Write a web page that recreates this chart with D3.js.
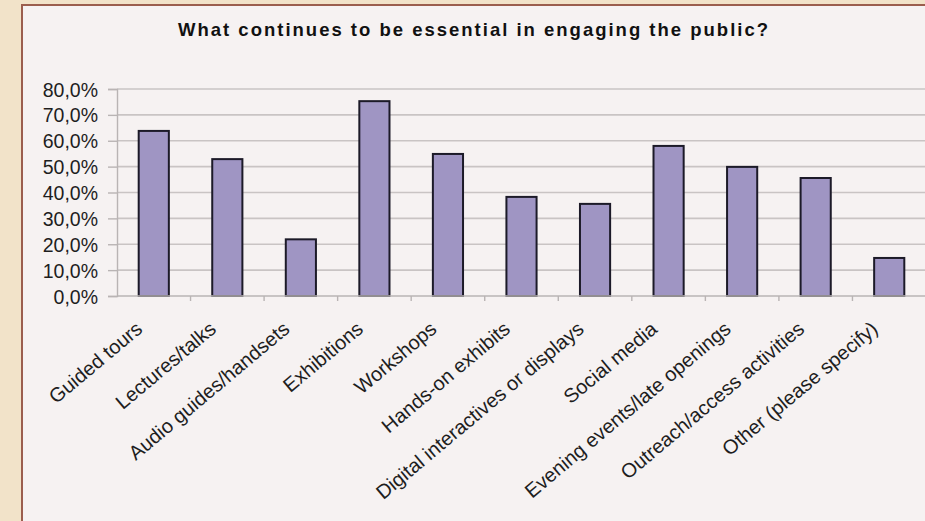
<!DOCTYPE html>
<html><head><meta charset="utf-8">
<script src="https://cdn.jsdelivr.net/npm/d3@7"></script>
<style>html,body{margin:0;padding:0;background:#f2e3c9;}svg{display:block;}</style>
</head><body>
<svg id="chart" width="925" height="521"></svg>
<script>
const title = "What continues to be essential in engaging the public?";
const categories = ["Guided tours","Lectures/talks","Audio guides/handsets","Exhibitions","Workshops","Hands-on exhibits","Digital interactives or displays","Social media","Evening events/late openings","Outreach/access activities","Other (please specify)"];
const values = [63.8, 52.9, 21.9, 75.3, 54.9, 38.3, 35.6, 58.0, 49.9, 45.6, 14.7];
const yTicks = [0,10,20,30,40,50,60,70,80];

const svg = d3.select("#chart");
svg.append("rect").attr("x",0).attr("y",0).attr("width",925).attr("height",521).attr("fill","#f2e3c9");
svg.append("rect").attr("x",22).attr("y",5).attr("width",920).attr("height",530)
  .attr("fill","#f6f2f2").attr("stroke","#9b5e4e").attr("stroke-width",2);

const m = {left:117, right:926, top:89, bottom:296};
const x = d3.scaleBand().domain(categories).range([m.left, m.right]).paddingInner(0.59).paddingOuter(0.295);
const xb = d3.scaleBand().domain(categories).range([m.left, m.right]);
const y = d3.scaleLinear().domain([0,80]).range([m.bottom, m.top]);

// gridlines
svg.append("g").selectAll("line").data(yTicks.filter(d=>d>0)).join("line")
  .attr("x1",m.left).attr("x2",m.right).attr("y1",d=>y(d)).attr("y2",d=>y(d))
  .attr("stroke","#c9c4c4").attr("stroke-width",1.6);

// y axis
const yAxis = svg.append("g").attr("transform",`translate(${m.left},0)`)
  .call(d3.axisLeft(y).tickValues(yTicks).tickSize(9).tickPadding(10).tickFormat(d=>d3.format(".1f")(d).replace(".",",")+"%"));
yAxis.select(".domain").attr("stroke","#b9b4b4").attr("stroke-width",1.4);
yAxis.selectAll(".tick line").attr("stroke","#b9b4b4").attr("stroke-width",1.4);
yAxis.selectAll(".tick text").attr("font-family","Liberation Sans, Arial, sans-serif").attr("font-size",19.5)
  .attr("fill","#1e1e1e").attr("dy","0.36em");

// bars
svg.append("g").selectAll("rect").data(categories).join("rect")
  .attr("x",d=>x(d)).attr("width",x.bandwidth())
  .attr("y",(d,i)=>y(values[i])).attr("height",(d,i)=>y(0)-y(values[i]))
  .attr("fill","#9f95c3").attr("stroke","#1c1a28").attr("stroke-width",2);

// x axis
const xa = svg.append("g").attr("transform",`translate(0,${m.bottom})`);
xa.append("line").attr("x1",m.left).attr("x2",m.right).attr("stroke","#b9b4b4").attr("stroke-width",1.4);
xa.selectAll("line.tk").data(categories.slice(1)).join("line").attr("class","tk")
  .attr("x1",d=>xb(d)).attr("x2",d=>xb(d)).attr("y1",0).attr("y2",5)
  .attr("stroke","#b9b4b4").attr("stroke-width",1.4);
xa.selectAll("text").data(categories).join("text")
  .attr("font-family","Liberation Sans, Arial, sans-serif").attr("font-size",20)
  .attr("fill","#1e1e1e").attr("text-anchor","end")
  .attr("transform",d=>`translate(${xb(d)+xb.bandwidth()/2-10},${35}) rotate(-40)`)
  .text(d=>d);

// title
svg.append("text").attr("x",473).attr("y",36).attr("text-anchor","middle")
  .attr("font-family","Liberation Sans, Arial, sans-serif").attr("font-weight","bold").attr("font-size",18.5)
  .attr("fill","#111").attr("textLength",590).attr("lengthAdjust","spacing").text(title);
</script>
</body></html>
